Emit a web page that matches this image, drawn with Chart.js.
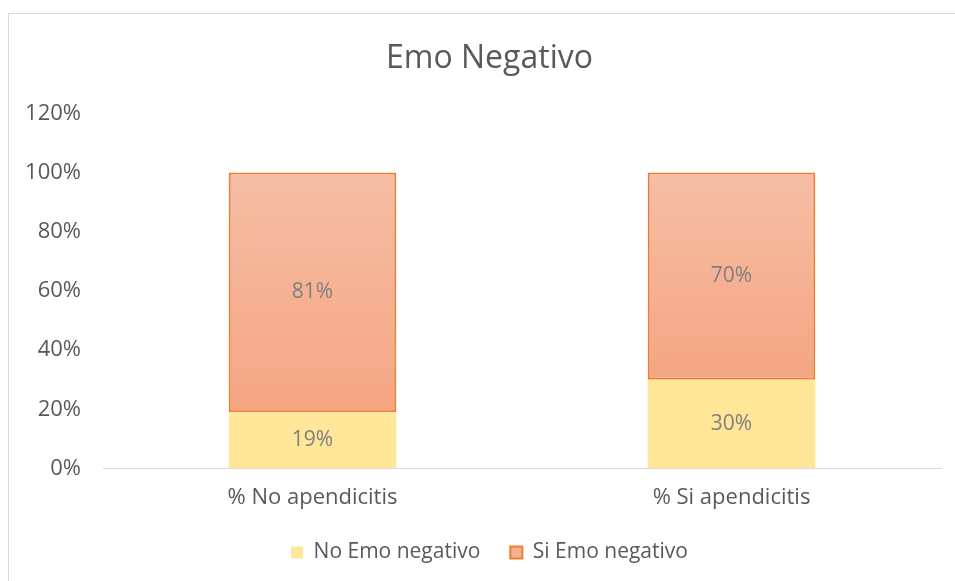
<!DOCTYPE html>
<html>
<head>
<meta charset="utf-8">
<script src="https://cdn.jsdelivr.net/npm/chart.js@4"></script>
<style>
    html, body { margin: 0; padding: 0; background: #fff; overflow: hidden; }
    #marco { position: absolute; left: 8px; top: 13px; width: 960px; height: 590px; border: 1px solid #d9d9d9; box-sizing: border-box; }
    #wrap { position: absolute; left: 0; top: 0; width: 955px; height: 581px; }
</style>
</head>
<body>
<div id="marco"></div>
<div id="wrap"><canvas id="chartEmo"></canvas></div>
<script>
const categorias = ['% No apendicitis', '% Si apendicitis'];
const noEmo = [19, 30];
const siEmo = [81, 70];
const ticksY = [0, 20, 40, 60, 80, 100, 120];

const gris = '#595959';
const fuente = "'Open Sans', sans-serif";

// etiquetas de valor en el centro de cada segmento
const etiquetas = {
    id: 'etiquetas',
    afterDatasetsDraw(chart) {
        const ctx = chart.ctx;
        ctx.save();
        ctx.font = `21px ${fuente}`;
        ctx.fillStyle = '#7f7f7f';
        ctx.textAlign = 'center';
        ctx.textBaseline = 'middle';
        chart.data.datasets.forEach((ds, i) => {
            chart.getDatasetMeta(i).data.forEach((bar, j) => {
                ctx.fillText(ds.data[j] + '%', bar.x, (bar.y + bar.base) / 2);
            });
        });
        ctx.restore();
    }
};

// titulo y leyenda un poco a la derecha del centro; leyenda mas compacta
const ajustes = {
    id: 'ajustes',
    beforeLayout(chart) {
        const leg = chart.legend;
        if (leg && !leg._compacta) {
            leg._compacta = true;
            const fitOrig = leg.fit;
            leg.fit = function () {
                fitOrig.call(this);
                this.height -= 15;
            };
        }
    },
    afterLayout(chart) {
        [chart.titleBlock, chart.legend].forEach(b => {
            if (b) { b.left += 13; b.right += 13; }
        });
        if (chart.legend) chart.legend.top -= 15;
    }
};

function degradado(context) {
    const chart = context.chart;
    const y = chart.scales.y;
    if (!y || !chart.chartArea) return '#f5b090';
    const i = context.dataIndex;
    const top = y.getPixelForValue(100);
    const bottom = y.getPixelForValue(noEmo[i]);
    const g = chart.ctx.createLinearGradient(0, top, 0, bottom);
    g.addColorStop(0, '#f6bea5');
    g.addColorStop(1, '#f5a582');
    return g;
}

new Chart(document.getElementById('chartEmo').getContext('2d'), {
    type: 'bar',
    data: {
        labels: categorias,
        datasets: [
            {
                label: 'No Emo negativo',
                data: noEmo,
                backgroundColor: '#ffe699',
                borderWidth: 0,
                categoryPercentage: 0.8,
                barPercentage: 0.5
            },
            {
                label: 'Si Emo negativo',
                data: siEmo,
                backgroundColor: degradado,
                borderColor: '#ed7d31',
                borderWidth: 2,
                borderSkipped: false,
                categoryPercentage: 0.8,
                barPercentage: 0.5
            }
        ]
    },
    options: {
        responsive: true,
        maintainAspectRatio: false,
        animation: false,
        layout: { padding: { left: 12, right: 14, top: 40, bottom: 8 } },
        scales: {
            x: {
                stacked: true,
                grid: { display: false, drawTicks: false },
                border: { color: '#d9d9d9', width: 1 },
                ticks: { color: gris, font: { family: fuente, size: 22 }, padding: 16 }
            },
            y: {
                stacked: true,
                min: 0,
                max: 120,
                afterBuildTicks: scale => { scale.ticks = ticksY.map(v => ({ value: v })); },
                afterFit: scale => { scale.width = 91; },
                grid: { display: false, drawTicks: false },
                border: { display: false },
                ticks: {
                    color: gris,
                    font: { family: fuente, size: 22 },
                    padding: 22,
                    callback: v => v + '%'
                }
            }
        },
        plugins: {
            title: {
                display: true,
                text: 'Emo Negativo',
                color: gris,
                font: { family: fuente, size: 32, weight: 'normal' },
                padding: { top: 0, bottom: 35 }
            },
            legend: {
                position: 'bottom',
                labels: {
                    color: gris,
                    font: { family: fuente, size: 21 },
                    boxWidth: 12,
                    boxHeight: 12,
                    padding: 30,
                    generateLabels: chart => chart.data.datasets.map((ds, i) => ({
                        text: ds.label,
                        fillStyle: i === 0 ? '#ffe699' : '#f5b090',
                        strokeStyle: i === 0 ? '#ffe699' : '#ed7d31',
                        lineWidth: i === 0 ? 0 : 2,
                        fontColor: gris,
                        datasetIndex: i
                    }))
                }
            },
            tooltip: { enabled: false }
        }
    },
    plugins: [etiquetas, ajustes]
});
</script>
</body>
</html>
